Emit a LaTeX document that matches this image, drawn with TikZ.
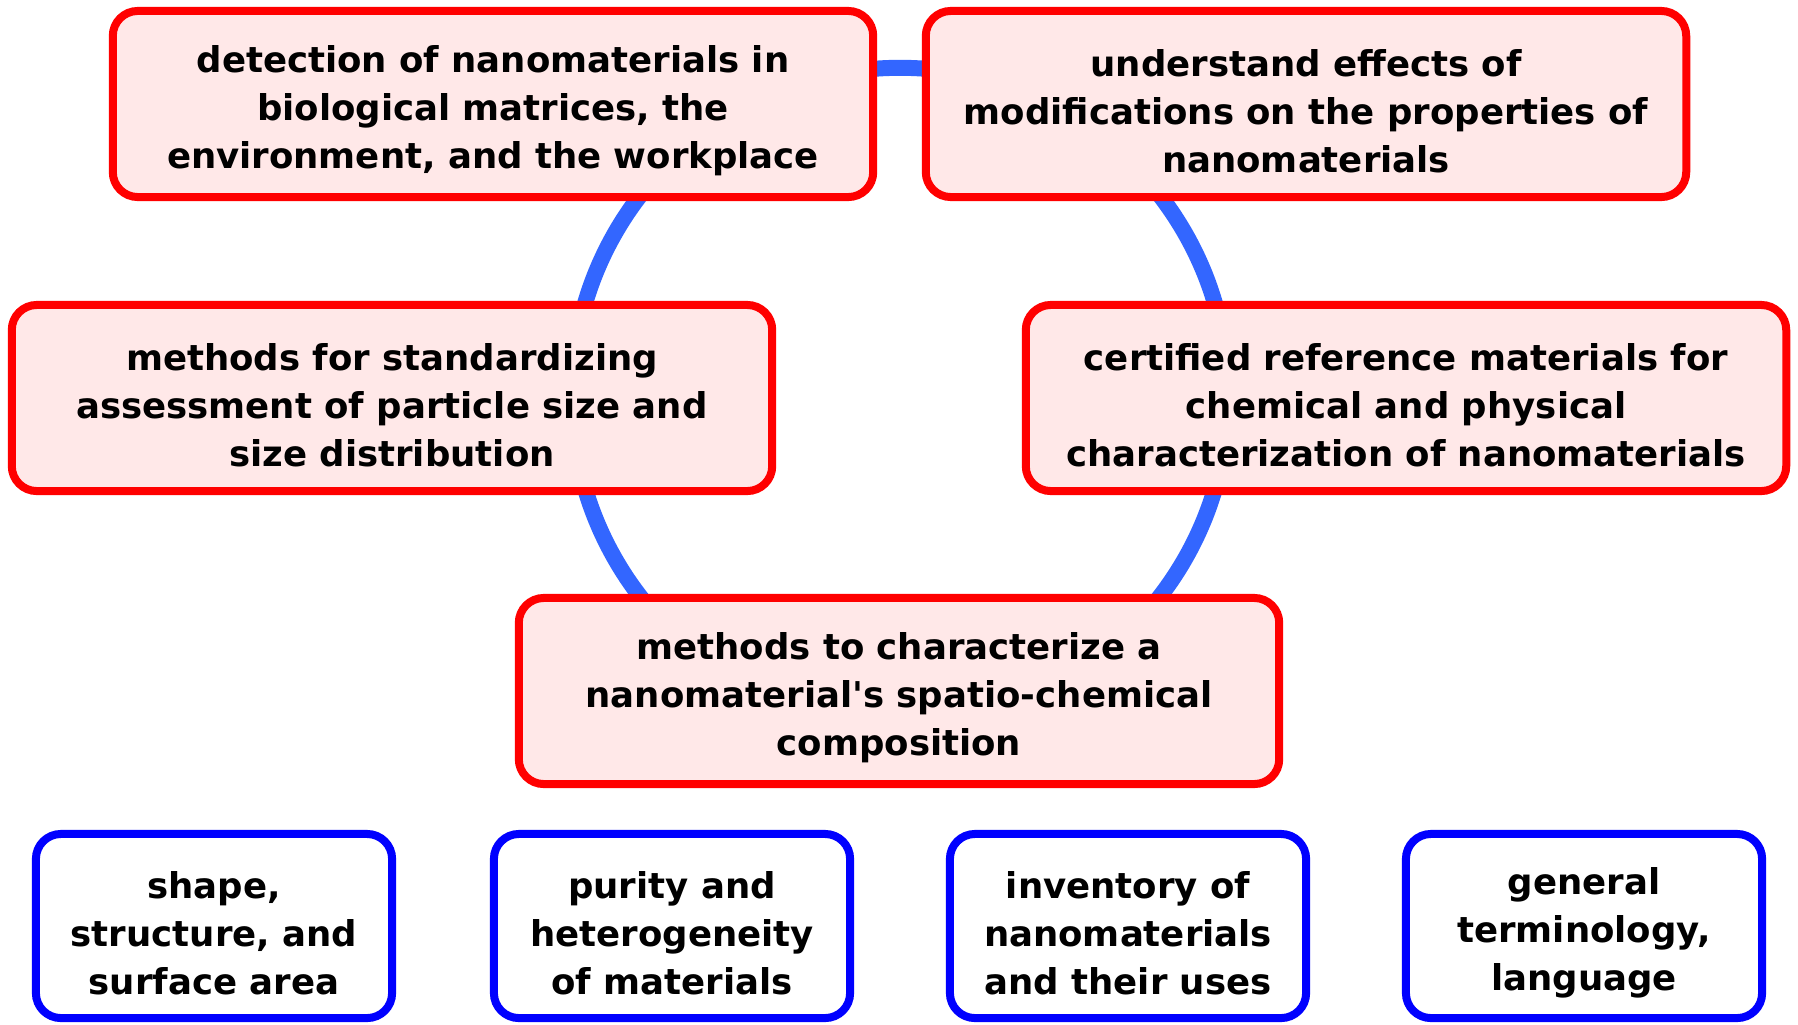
\documentclass[tikz,border=0pt]{standalone}
\usepackage{fontspec}
\setmainfont{DejaVu Sans}
\usepackage{xcolor}
\usetikzlibrary{positioning}
\definecolor{topicred}{RGB}{255,0,0}
\definecolor{topicfill}{RGB}{255,232,232}
\definecolor{ringblue}{RGB}{51,102,255}
\definecolor{areablue}{RGB}{0,0,255}
\newcommand{\lowstrut}{\rule{0pt}{0.41cm}}
\tikzstyle{gapbox}=[rectangle, rounded corners=0.25cm, draw=topicred,
  fill=topicfill, line width=0.08cm, align=center, text=black,
  font=\fontsize{10.1}{13.66}\selectfont\bfseries,
  minimum width=7.6cm, minimum height=1.86cm, inner sep=0pt]
\tikzstyle{areabox}=[gapbox, draw=areablue, fill=white,
  minimum width=3.56cm, minimum height=1.84cm]
\tikzstyle{ring}=[line width=0.16cm, color=ringblue]

\begin{document}
\begin{tikzpicture}[x=0.01cm, y=-0.01cm]
  \useasboundingbox (0,0) rectangle (1798,1024);
  \coordinate (hub) at (900,396);
  \draw[ring] (hub) circle[radius=3.28cm];
  % research needs around the ring
  \node[gapbox] (detect) at (493,104)
    {\lowstrut detection of nanomaterials in\\biological matrices, the\\environment, and the workplace};
  \node[gapbox] (modify) at (1306,104)
    {\lowstrut understand effects of\\modifications on the properties of\\nanomaterials};
  \node[gapbox] (sizing) at (392,398)
    {\lowstrut methods for standardizing\\assessment of particle size and\\size distribution};
  \node[gapbox] (crm) at (1406,398)
    {\lowstrut certified reference materials for\\chemical and physical\\characterization of nanomaterials};
  \node[gapbox] (spatio) at (899,691)
    {\lowstrut methods to characterize a\\nanomaterial\textquotesingle s spatio-chemical\\composition};
  % broader areas
  \node[areabox] (shape) at (214,926) {\lowstrut shape,\\structure, and\\surface area};
  \node[areabox] (purity) at (672,926) {\lowstrut purity and\\heterogeneity\\of materials};
  \node[areabox] (inventory) at (1128,926) {\lowstrut inventory of\\nanomaterials\\and their uses};
  \node[areabox] (terms) at (1584,926) {\lowstrut general\\terminology,\\language};
\end{tikzpicture}
\end{document}
